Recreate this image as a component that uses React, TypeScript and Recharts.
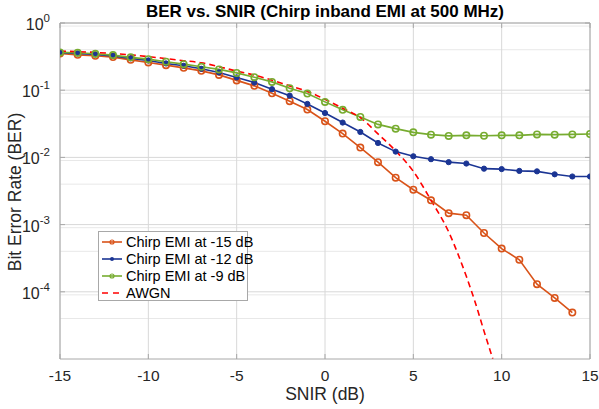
import React from 'react';
import {
  LineChart, Line, XAxis, YAxis, CartesianGrid, ReferenceLine
} from 'recharts';

// SNIR sweep in dB
const snir = [-15, -14, -13, -12, -11, -10, -9, -8, -7, -6, -5, -4, -3, -2, -1, 0, 1, 2, 3, 4, 5, 6, 7, 8, 9, 10, 11, 12, 13, 14, 15];

// BER readings, one per SNIR point (orange stops at 14 dB)
const berEmi15 = [0.353, 0.336, 0.325, 0.311, 0.283, 0.259, 0.236, 0.215, 0.194, 0.169, 0.14, 0.116, 0.09, 0.0686, 0.0515, 0.0345, 0.0226, 0.014, 0.0085, 0.005, 0.0033, 0.0023, 0.00148, 0.00138, 0.00075, 0.00044, 0.0003, 0.00013, 0.000081, 0.000049];
const berEmi12 = [0.36, 0.352, 0.34, 0.324, 0.298, 0.277, 0.25, 0.231, 0.208, 0.184, 0.155, 0.13, 0.1035, 0.083, 0.0625, 0.0458, 0.033, 0.0239, 0.0164, 0.0122, 0.0104, 0.0094, 0.0085, 0.0081, 0.0068, 0.0067, 0.0063, 0.0062, 0.0056, 0.0052, 0.0052];
const berEmi9 = [0.365, 0.36, 0.348, 0.333, 0.308, 0.29, 0.265, 0.244, 0.223, 0.204, 0.181, 0.156, 0.133, 0.107, 0.089, 0.067, 0.051, 0.04, 0.031, 0.0268, 0.0236, 0.0218, 0.0209, 0.0213, 0.021, 0.0213, 0.0213, 0.022, 0.0218, 0.022, 0.0223];

// AWGN reference curve
const awgnSnir = [-15, -13, -11, -10, -9, -8, -7, -6, -5, -4, -3, -2, -1, 0, 1, 2, 3, 4, 5, 6, 7, 7.5, 8, 8.5, 9, 9.5];
const awgnBer = [0.382, 0.365, 0.335, 0.316, 0.295, 0.275, 0.256, 0.224, 0.192, 0.168, 0.141, 0.116, 0.096, 0.073, 0.054, 0.039, 0.0224, 0.0125, 0.0062, 0.0023, 0.00078, 0.00038, 0.00017, 0.00007, 0.000026, 0.00001];

const xTicks = [-15, -10, -5, 0, 5, 10, 15];
const yTicks = [1e-4, 1e-3, 1e-2, 1e-1, 1];
const yMinor: number[] = [];
[-5, -4, -3, -2, -1].forEach(e => {
  for (let m = 2; m <= 9; m++) yMinor.push(m * Math.pow(10, e));
});

const series = [
  { name: 'Chirp EMI at -15 dB', color: '#D95319', ber: berEmi15, marker: 'open' },
  { name: 'Chirp EMI at -12 dB', color: '#1B3594', ber: berEmi12, marker: 'dot' },
  { name: 'Chirp EMI at -9 dB', color: '#77AC30', ber: berEmi9, marker: 'open' },
];

const rows = (xs: number[], ys: number[]) => ys.map((v, i) => ({ x: xs[i], y: v }));

const FONT = '"Liberation Sans", Arial, sans-serif';
const AXIS = '#a8a8a8';

const YTick = (props: any) => {
  const { x, y, payload } = props;
  const exp = Math.round(Math.log10(payload.value));
  return (
    <g>
      <line x1={60} x2={65} y1={y} y2={y} stroke={AXIS} />
      <line x1={585} x2={590} y1={y} y2={y} stroke={AXIS} />
      <text x={x - 2} y={y + 7} textAnchor="end" fontSize={16} fill="#262626" fontFamily={FONT}>
        10<tspan dy={-8} fontSize={11.5}>{exp}</tspan>
      </text>
    </g>
  );
};

const XTick = (props: any) => {
  const { x, payload } = props;
  return (
    <g>
      <line x1={x} x2={x} y1={359} y2={354} stroke={AXIS} />
      <line x1={x} x2={x} y1={23} y2={28} stroke={AXIS} />
      <text x={x} y={381} textAnchor="middle" fontSize={15.5} fill="#262626" fontFamily={FONT}>
        {payload.value}
      </text>
    </g>
  );
};

const App = () => {
  return (
    <div style={{ position: 'absolute', left: 0, top: 0, width: 599, height: 409, background: '#fff', fontFamily: FONT }}>
      <div style={{ position: 'absolute', left: 60, width: 530, top: 2, textAlign: 'center', fontWeight: 'bold', fontSize: 17, color: '#000' }}>
        BER vs. SNIR (Chirp inband EMI at 500 MHz)
      </div>
      <div style={{ position: 'absolute', left: 60, width: 530, top: 384, textAlign: 'center', fontSize: 17.5, color: '#262626' }}>
        SNIR (dB)
      </div>
      <div style={{ position: 'absolute', left: 15, top: 192, transform: 'translate(-50%, -50%) rotate(-90deg)', whiteSpace: 'nowrap', fontSize: 17.5, color: '#262626' }}>
        Bit Error Rate (BER)
      </div>
      <LineChart width={599} height={409} margin={{ top: 23, right: 9, bottom: 0, left: 0 }}>
        <CartesianGrid horizontalValues={yMinor} vertical={false} stroke="#e8e8e8" strokeWidth={1} />
        <CartesianGrid horizontalValues={yTicks} verticalValues={xTicks} stroke="#d8d8d8" strokeWidth={1} />
        <XAxis type="number" dataKey="x" domain={[-15, 15]} ticks={xTicks} allowDataOverflow
          stroke={AXIS} tickLine={false} tick={<XTick />} height={50} />
        <YAxis type="number" scale="log" domain={[1e-5, 1]} ticks={yTicks} allowDataOverflow
          stroke={AXIS} tickLine={false} tick={<YTick />} width={60} />
        <ReferenceLine y={1} stroke={AXIS} />
        <ReferenceLine x={15} stroke={AXIS} />
        {series.map(s => (
          <Line key={s.name} data={rows(snir, s.ber)} dataKey="y" type="linear" stroke={s.color} strokeWidth={1.6}
            isAnimationActive={false}
            dot={s.marker === 'dot'
              ? { r: 2.6, fill: s.color, stroke: s.color, strokeWidth: 1 }
              : { r: 3.2, fill: 'none', stroke: s.color, strokeWidth: 1.6 }} />
        ))}
        <Line data={rows(awgnSnir, awgnBer)} dataKey="y" type="monotone" stroke="#FF0000" strokeWidth={1.6}
          strokeDasharray="6 4" dot={false} isAnimationActive={false} />
      </LineChart>
      <div style={{ position: 'absolute', left: 98, top: 231, width: 150, height: 70, border: '1px solid #a8a8a8', background: '#fff', boxSizing: 'border-box', padding: '1px 0 0 2px' }}>
        {[...series, { name: 'AWGN', color: '#FF0000', marker: 'dash' }].map(s => (
          <div key={s.name} style={{ display: 'flex', alignItems: 'center', height: 17, fontSize: 14.5, color: '#000', whiteSpace: 'nowrap' }}>
            <svg width={22} height={12} style={{ marginRight: 3, flexShrink: 0, display: 'block' }}>
              {s.marker === 'dash'
                ? <line x1={1} y1={6} x2={21} y2={6} stroke={s.color} strokeWidth={1.6} strokeDasharray="6 5" />
                : <line x1={1} y1={6} x2={21} y2={6} stroke={s.color} strokeWidth={1.6} />}
              {s.marker === 'open' && <circle cx={11} cy={6} r={2} fill="none" stroke={s.color} strokeWidth={1.2} />}
              {s.marker === 'dot' && <circle cx={11} cy={6} r={2} fill={s.color} />}
            </svg>
            <span>{s.name}</span>
          </div>
        ))}
      </div>
    </div>
  );
};

export default App;
